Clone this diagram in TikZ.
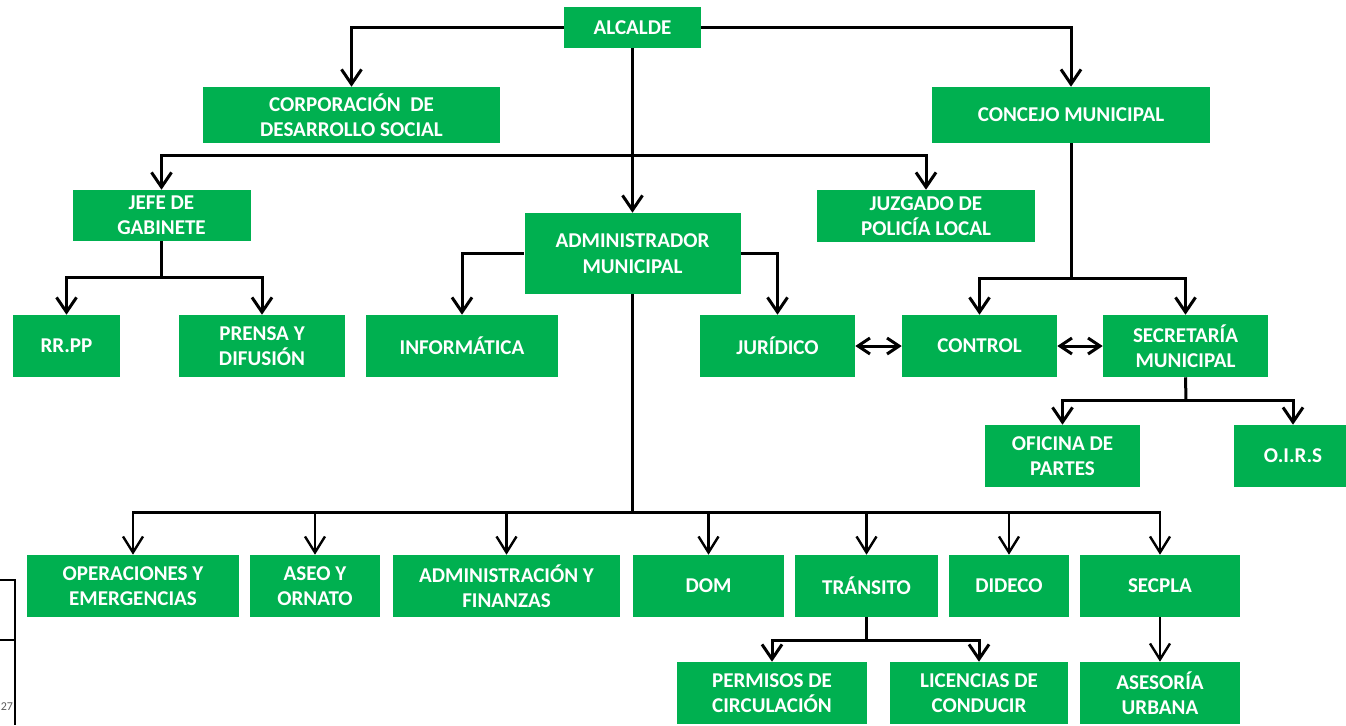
\documentclass[tikz,border=0pt]{standalone}
\usepackage{fontspec}
\setmainfont{Carlito}[BoldFont={Carlito Bold}]
\usepackage{tikz}
\usetikzlibrary{arrows.meta}
\definecolor{orggreen}{RGB}{0,176,80}
\definecolor{notegray}{RGB}{90,90,90}
\tikzset{
  unit/.style={rectangle, fill=orggreen, text=white, align=center,
    inner sep=0pt, font=\fontsize{15.8}{19}\selectfont\bfseries},
  wh/.style 2 args={minimum width=#1*0.75pt, minimum height=#2*0.75pt},
  link/.style={line width=2.25pt, color=black},
  arrow/.style={-{Straight Barb[length=11pt,width=15pt,line width=2.25pt]}, line width=2.25pt},
  thinarrow/.style={-{Straight Barb[length=12pt,width=15pt,line width=1.8pt]}, line width=1.7pt},
  bothway/.style={{Straight Barb[length=9pt,width=12pt]}-{Straight Barb[length=9pt,width=12pt]}, line width=2.25pt}
}

\begin{document}
\begin{tikzpicture}[x=0.75pt, y=-0.75pt]
  \useasboundingbox (0,0) rectangle (1346,725);
  % ── top level ──────────────────────────────────────────────
  \node[unit, wh={137}{41}]  (alcalde) at (632.5,27.5) {ALCALDE};
  \node[unit, wh={297}{56}]  (corp)    at (351.5,115)  {CORPORACIÓN\ \ DE\\DESARROLLO SOCIAL};
  \node[unit, wh={278}{56}]  (concejo) at (1071,115)   {CONCEJO MUNICIPAL};
  % ── second level ───────────────────────────────────────────
  \node[unit, wh={178}{51}]  (jefe)    at (161.5,215.5) {JEFE DE\\GABINETE};
  \node[unit, wh={216}{81}]  (admin)   at (632.5,253.5) {ADMINISTRADOR\\MUNICIPAL};
  \node[unit, wh={218}{52}]  (juzgado) at (926,216)     {JUZGADO DE\\POLICÍA LOCAL};
  % ── third level ────────────────────────────────────────────
  \node[unit, wh={107}{62}]  (rrpp)    at (66.5,346)  {RR.PP};
  \node[unit, wh={166}{62}]  (prensa)  at (262,346)   {PRENSA Y\\DIFUSIÓN};
  \node[unit, wh={192}{62}]  (info)    at (462,346)   {INFORMÁTICA};
  \node[unit, wh={155}{62}]  (juridico) at (777.5,346) {JURÍDICO};
  \node[unit, wh={155}{62}]  (control) at (979.5,346) {CONTROL};
  \node[unit, wh={165}{62}]  (secre)   at (1185.5,346) {SECRETARÍA\\MUNICIPAL};
  \node[unit, wh={155}{62}]  (partes)  at (1062.5,456) {OFICINA DE\\PARTES};
  \node[unit, wh={118}{62}]  (oirs)    at (1293,456)  {O.I.R.S};
  % ── departments ────────────────────────────────────────────
  \node[unit, wh={212}{62}]  (oper)    at (133,586)   {OPERACIONES Y\\EMERGENCIAS};
  \node[unit, wh={130}{62}]  (aseo)    at (315,586)   {ASEO Y\\ORNATO};
  \node[unit, wh={227}{62}]  (finanzas) at (506.5,586) {ADMINISTRACIÓN Y\\FINANZAS};
  \node[unit, wh={151}{62}]  (dom)     at (708.5,586) {DOM};
  \node[unit, wh={143}{62}]  (transito) at (866.5,586) {TRÁNSITO};
  \node[unit, wh={120}{62}]  (dideco)  at (1009,586)  {DIDECO};
  \node[unit, wh={160}{62}]  (secpla)  at (1160,586)  {SECPLA};
  \node[unit, wh={190}{62}]  (permisos) at (772,693)  {PERMISOS DE\\CIRCULACIÓN};
  \node[unit, wh={178}{62}]  (licencias) at (979,693) {LICENCIAS DE\\CONDUCIR};
  \node[unit, wh={160}{62}]  (asesoria) at (1160,693) {ASESORÍA\\URBANA};

  % branch points
  \coordinate (hub)  at (632.5,155);
  \coordinate (jhub) at (161.5,277);
  \coordinate (chub) at (1071,278);
  \coordinate (shub) at (1186,400);
  \coordinate (ahub) at (632.5,512);
  \coordinate (thub) at (866.5,640);

  % connectors
  \draw[arrow] (alcalde.west) -| (corp.north);
  \draw[arrow] (alcalde.east) -| (concejo.north);
  \draw[arrow] (alcalde.south) -- (admin.north);
  \draw[arrow] (hub) -| (jefe.north);
  \draw[arrow] (hub) -| (juzgado.north);
  \draw[link] (jefe.south) -- (jhub);
  \draw[arrow] (jhub) -| (rrpp.north);
  \draw[arrow] (jhub) -| (prensa.north);
  \draw[arrow] (admin.west) -| (info.north);
  \draw[arrow] (admin.east) -| (juridico.north);
  \draw[link] (concejo.south) -- (chub);
  \draw[arrow] (chub) -| (control.north);
  \draw[arrow] (chub) -| (secre.north);
  \draw[bothway] (juridico.east) -- (control.west);
  \draw[bothway] (control.east) -- (secre.west);
  \draw[link] (secre.south) -- (shub);
  \draw[arrow] (shub) -| (partes.north);
  \draw[arrow] (shub) -| (oirs.north);
  \draw[link] (admin.south) -- (ahub);
  \foreach \dept in {oper, aseo, finanzas, dom, transito, dideco, secpla}
    \draw[thinarrow] (ahub) -| (\dept.north);
  \draw[link] (ahub -| oper.north) -- (ahub -| secpla.north);
  \draw[link] (transito.south) -- (thub);
  \draw[arrow] (thub) -| (permisos.north);
  \draw[arrow] (thub) -| (licencias.north);
  \draw[thinarrow] (secpla.south) -- (asesoria.north);

  % page fragment at the lower left
  \coordinate (frame) at (15,580);
  \draw[line width=1.5pt] (0,580) -- (frame) -- (15,725);
  \draw[line width=1.5pt] (0,640) -- (15,640);
  \node[anchor=west, text=notegray, inner sep=0pt, font=\fontsize{9}{11}\selectfont] (pagenum) at (0.5,707) {27};
\end{tikzpicture}
\end{document}
